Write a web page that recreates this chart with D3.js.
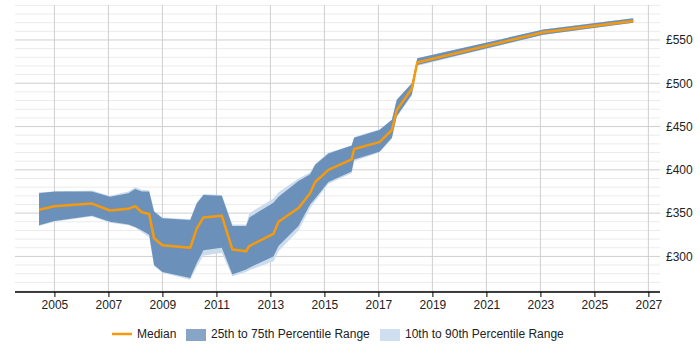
<!DOCTYPE html>
<html>
<head>
<meta charset="utf-8">
<script src="https://cdn.jsdelivr.net/npm/d3@7"></script>
<style>
  body { margin: 0; background: #fff; }
  text { font-family: "Liberation Sans", Arial, sans-serif; font-size: 12px; fill: #222; }
</style>
</head>
<body>
<script>
// decimal years of each sample
var years = [2004.43, 2005.0, 2006.39, 2007.06, 2007.74, 2007.99, 2008.24, 2008.51, 2008.69, 2009.0,
  2010.03, 2010.27, 2010.52, 2011.2, 2011.59, 2012.1, 2012.22, 2013.11, 2013.3, 2014.04,
  2014.47, 2014.66, 2015.15, 2016.01, 2016.1, 2017.04, 2017.5, 2017.68, 2018.24, 2018.44,
  2023.11, 2026.44];
var median = [354, 358, 361, 353, 355, 358, 351, 349, 321, 313,
  310, 332, 345, 347, 308, 306, 312, 326, 340, 356,
  373, 386, 400, 412, 424, 432, 446, 469, 494, 524,
  559, 572];
var p25 = [336, 341, 347, 340, 337, 334, 330, 325, 290, 282,
  275, 292, 307, 310, 279, 285, 287, 300, 312, 335,
  360, 367, 386, 398, 412, 421, 437, 462, 487, 521,
  556, 570];
var p75 = [373, 375, 375, 369, 373, 378, 375, 375, 352, 344,
  342, 361, 371, 370, 335, 335, 345, 362, 369, 387,
  395, 406, 419, 428, 437, 446, 458, 481, 500, 529,
  562, 575];
var p10 = [335, 340, 346, 339, 336, 333, 328, 322, 289, 281,
  273, 288, 301, 304, 277, 282, 284, 294, 306, 330,
  356, 364, 384, 396, 410, 420, 436, 461, 486, 520,
  556, 570];
var p90 = [374, 375, 376, 370, 375, 380, 377, 376, 353, 345,
  343, 362, 372, 371, 337, 337, 350, 367, 374, 390,
  397, 407, 420, 428, 438, 447, 458, 481, 500, 529,
  562, 575];

var xTicks = [2005, 2007, 2009, 2011, 2013, 2015, 2017, 2019, 2021, 2023, 2025, 2027];
var yTicks = [300, 350, 400, 450, 500, 550];

var w = 700, h = 350;
var pLeft = 15, pRight = 660, pTop = 5, pBottom = 292;

var x = d3.scaleLinear().domain([2003.54, 2027.43]).range([pLeft, pRight]);
var y = d3.scaleLinear().domain([258.9, 590.4]).range([pBottom, pTop]);

var svg = d3.select("body").append("svg")
  .attr("width", w)
  .attr("height", h);

// minor grid every 10
svg.append("g").selectAll("line")
  .data(d3.range(260, 591, 10).filter(function(d) { return d % 50 != 0; }))
  .enter().append("line")
  .attr("x1", pLeft).attr("x2", pRight)
  .attr("y1", function(d) { return y(d); })
  .attr("y2", function(d) { return y(d); })
  .style("stroke", "#ebebeb")
  .style("stroke-width", 1);

// major grid
svg.append("g").selectAll("line")
  .data(yTicks)
  .enter().append("line")
  .attr("x1", pLeft).attr("x2", pRight)
  .attr("y1", function(d) { return y(d); })
  .attr("y2", function(d) { return y(d); })
  .style("stroke", "#cfcfcf")
  .style("stroke-width", 1);

// vertical grid
svg.append("g").selectAll("line")
  .data(xTicks)
  .enter().append("line")
  .attr("x1", function(d) { return x(d); })
  .attr("x2", function(d) { return x(d); })
  .attr("y1", pTop).attr("y2", pBottom)
  .style("stroke", "#cfcfcf")
  .style("stroke-width", 1);

var idx = d3.range(years.length);

var area90 = d3.area()
  .x(function(i) { return x(years[i]); })
  .y0(function(i) { return y(p10[i]); })
  .y1(function(i) { return y(p90[i]); });

var area75 = d3.area()
  .x(function(i) { return x(years[i]); })
  .y0(function(i) { return y(p25[i]); })
  .y1(function(i) { return y(p75[i]); });

var medLine = d3.line()
  .x(function(i) { return x(years[i]); })
  .y(function(i) { return y(median[i]); });

svg.append("path")
  .attr("d", area90(idx))
  .style("fill", "#cddcec");

svg.append("path")
  .attr("d", area75(idx))
  .style("fill", "#6b91ba");

svg.append("path")
  .attr("d", medLine(idx))
  .style("fill", "none")
  .style("stroke", "#f7990c")
  .style("stroke-width", 2.5)
  .style("stroke-linejoin", "round");

// x axis
var xAxis = d3.axisBottom(x)
  .tickValues(xTicks)
  .tickFormat(d3.format("d"))
  .tickSize(5)
  .tickPadding(3);

var gx = svg.append("g")
  .attr("transform", "translate(0," + pBottom + ")")
  .call(xAxis);
gx.select(".domain").attr("d", "M" + pLeft + ",0H" + pRight).style("stroke", "#000").style("stroke-width", 1.5);
gx.selectAll(".tick line").style("stroke", "#000");
gx.selectAll("text").style("font-family", "'Liberation Sans', Arial, sans-serif").style("font-size", "12px").style("fill", "#222");

// y labels on right
var yAxis = d3.axisRight(y)
  .tickValues(yTicks)
  .tickFormat(function(d) { return "£" + d; })
  .tickSize(0)
  .tickPadding(6);

var gy = svg.append("g")
  .attr("transform", "translate(" + pRight + ",0)")
  .call(yAxis);
gy.select(".domain").remove();
gy.selectAll("text").style("font-family", "'Liberation Sans', Arial, sans-serif").style("font-size", "12px").style("fill", "#222");

// legend
var lg = svg.append("g");
lg.append("line")
  .attr("x1", 112).attr("x2", 132)
  .attr("y1", 334).attr("y2", 334)
  .style("stroke", "#f7990c")
  .style("stroke-width", 2.5);
lg.append("text").attr("x", 137).attr("y", 338).text("Median");
lg.append("rect")
  .attr("x", 186).attr("y", 329).attr("width", 20).attr("height", 12)
  .style("fill", "#87a5c6");
lg.append("text").attr("x", 211).attr("y", 338).text("25th to 75th Percentile Range");
lg.append("rect")
  .attr("x", 380).attr("y", 329).attr("width", 20).attr("height", 12)
  .style("fill", "#cfdff0");
lg.append("text").attr("x", 405).attr("y", 338).text("10th to 90th Percentile Range");
</script>
</body>
</html>
